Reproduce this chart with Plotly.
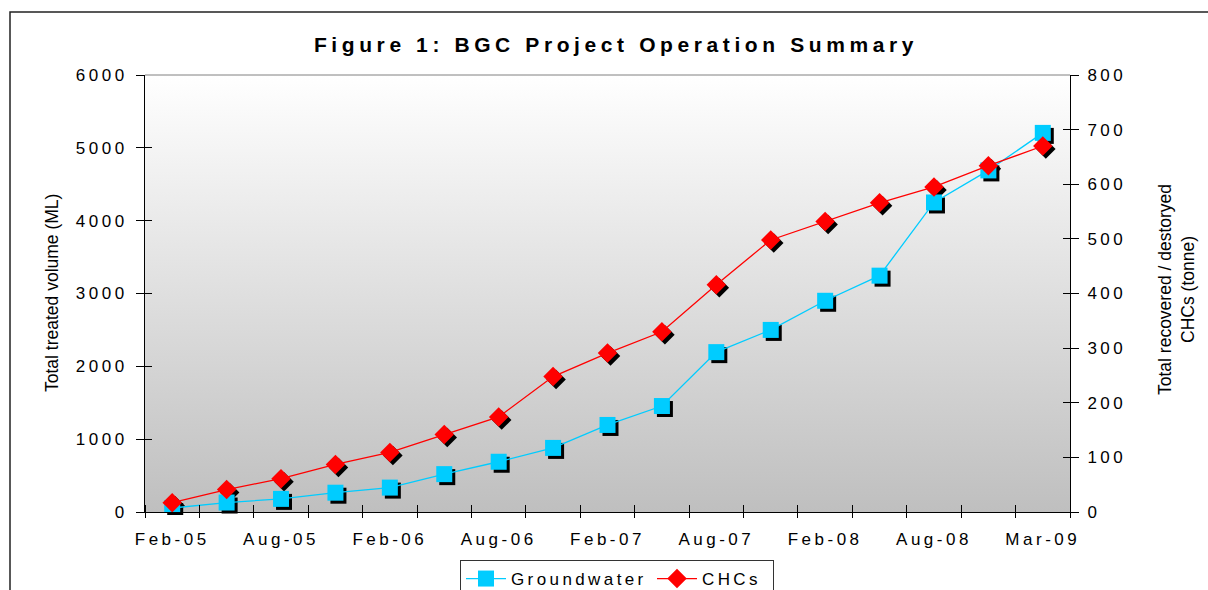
import base64
import plotly.graph_objects as go

# ---------------- data ----------------
categories = ["Feb-05", "May-05", "Aug-05", "Nov-05", "Feb-06", "May-06", "Aug-06", "Nov-06",
              "Feb-07", "May-07", "Aug-07", "Nov-07", "Feb-08", "May-08", "Aug-08", "Nov-08", "Mar-09"]
groundwater_ml = [55, 130, 180, 265, 335, 520, 690, 880, 1195, 1455, 2195, 2500, 2900, 3245, 4250, 4690, 5205]
chcs_tonne = [17, 41, 61, 87, 109, 142, 174, 248, 291, 330, 416, 498, 532, 566, 595, 634, 670]
tick_labels = ["Feb-05", "Aug-05", "Feb-06", "Aug-06", "Feb-07", "Aug-07", "Feb-08", "Aug-08", "Mar-09"]
left_ticks = [0, 1000, 2000, 3000, 4000, 5000, 6000]
right_ticks = [0, 100, 200, 300, 400, 500, 600, 700, 800]

x_idx = list(range(len(categories)))
tick_idx = [categories.index(t) for t in tick_labels]

FONT = "Liberation Sans, Arial, sans-serif"
CYAN = "#00CCFF"
RED = "#FF0000"

# pixel geometry of the plot area
W, H = 1208, 590
ML, MR, MT, MB = 145, 135, 75, 75
PW, PH = W - ML - MR, H - MT - MB   # 928 x 440
SH = 3                               # shadow offset px
xd_main = [0, (PW - SH) / PW]
xd_shad = [SH / PW, 1]
yd_main = [SH / PH, 1]
yd_shad = [0, (PH - SH) / PH]

fig = go.Figure()

# shadows (drawn first / underneath)
fig.add_trace(go.Scatter(x=x_idx, y=groundwater_ml, mode="markers", xaxis="x", yaxis="y",
                         marker=dict(symbol="square", size=16, color="black"),
                         showlegend=False, hoverinfo="skip"))
fig.add_trace(go.Scatter(x=x_idx, y=chcs_tonne, mode="markers", xaxis="x", yaxis="y2",
                         marker=dict(symbol="diamond", size=15, color="black"),
                         showlegend=False, hoverinfo="skip"))
# main series
fig.add_trace(go.Scatter(x=x_idx, y=groundwater_ml, mode="lines+markers", name="Groundwater",
                         xaxis="x2", yaxis="y3", customdata=categories, legendwidth=136,
                         line=dict(color=CYAN, width=1.3),
                         marker=dict(symbol="square", size=16, color=CYAN),
                         hovertemplate="%{customdata}: %{y} ML<extra></extra>"))
fig.add_trace(go.Scatter(x=x_idx, y=chcs_tonne, mode="lines+markers", name="CHCs",
                         xaxis="x2", yaxis="y4", customdata=categories, legendwidth=66,
                         line=dict(color=RED, width=1.3),
                         marker=dict(symbol="diamond", size=15, color=RED),
                         hovertemplate="%{customdata}: %{y} t<extra></extra>"))
# empty traces to host the inner halves of the crossing tick marks
for xa, ya in [("x3", "y3"), ("x2", "y5"), ("x2", "y6")]:
    fig.add_trace(go.Scatter(x=[], y=[], xaxis=xa, yaxis=ya, showlegend=False, hoverinfo="skip"))

tickfont = dict(family=FONT, size=17, color="black")
hidden = dict(visible=False, showgrid=False, zeroline=False, fixedrange=True)

svg = ("<svg xmlns='http://www.w3.org/2000/svg' width='100' height='100' preserveAspectRatio='none'>"
       "<defs><linearGradient id='g' x1='0' y1='0' x2='0' y2='1'>"
       "<stop offset='0' stop-color='#ffffff'/><stop offset='1' stop-color='#bfbfbf'/>"
       "</linearGradient></defs><rect width='100' height='100' fill='url(#g)'/></svg>")
bg_src = "data:image/svg+xml;base64," + base64.b64encode(svg.encode()).decode()

xr = [-0.5, len(categories) - 0.5]

fig.update_layout(
    width=W, height=H,
    margin=dict(l=ML, r=MR, t=MT, b=MB, autoexpand=False),
    paper_bgcolor="white", plot_bgcolor="rgba(0,0,0,0)",
    font=dict(family=FONT, size=17, color="black"),
    title=dict(text="<b>Figure 1: BGC Project Operation Summary</b>",
               font=dict(family=FONT, size=21, color="black"),
               x=616 / W, xref="container", xanchor="center",
               y=1 - 45 / H, yref="container", yanchor="middle"),
    xaxis=dict(domain=xd_shad, range=xr, anchor="y", **hidden),
    yaxis=dict(domain=yd_shad, range=[left_ticks[0], left_ticks[-1]], anchor="x", **hidden),
    yaxis2=dict(range=[right_ticks[0], right_ticks[-1]], overlaying="y", anchor="x", **hidden),
    xaxis2=dict(domain=xd_main, range=xr, anchor="y3", showgrid=False, zeroline=False,
                showline=True, linecolor="black", linewidth=1,
                tickmode="array", tickvals=tick_idx, ticktext=tick_labels, ticks="",
                tickfont=tickfont, ticklabelstandoff=12,
                minor=dict(ticks="outside", ticklen=5, tickcolor="black", tickwidth=1,
                           tick0=-0.5, dtick=1, showgrid=False)),
    xaxis3=dict(range=xr, overlaying="x2", anchor="y3", showgrid=False, zeroline=False,
                showticklabels=False, ticks="", tickvals=[],
                minor=dict(ticks="inside", ticklen=7, tickcolor="black", tickwidth=1,
                           tick0=-0.5, dtick=1, showgrid=False)),
    yaxis3=dict(domain=yd_main, range=[left_ticks[0], left_ticks[-1]], anchor="x2",
                tickmode="array", tickvals=left_ticks, showgrid=False, zeroline=False,
                showline=True, linecolor="black", linewidth=1,
                ticks="outside", ticklen=8, tickcolor="black", tickfont=tickfont,
                ticklabelstandoff=5),
    yaxis5=dict(range=[left_ticks[0], left_ticks[-1]], overlaying="y3", anchor="x2",
                tickmode="array", tickvals=left_ticks, showgrid=False, zeroline=False,
                showticklabels=False, ticks="inside", ticklen=7, tickcolor="black"),
    yaxis4=dict(range=[right_ticks[0], right_ticks[-1]], overlaying="y3", side="right", anchor="x2",
                tickmode="array", tickvals=right_ticks, showgrid=False, zeroline=False,
                showline=True, linecolor="black", linewidth=1,
                ticks="outside", ticklen=8, tickcolor="black", tickfont=tickfont,
                ticklabelstandoff=5),
    yaxis6=dict(range=[right_ticks[0], right_ticks[-1]], overlaying="y3", side="right", anchor="x2",
                tickmode="array", tickvals=right_ticks, showgrid=False, zeroline=False,
                showticklabels=False, ticks="inside", ticklen=7, tickcolor="black"),
    legend=dict(orientation="h", x=460 / W, xref="container", xanchor="left",
                y=1 - 560 / H, yref="container", yanchor="top",
                bgcolor="white", bordercolor="#333333", borderwidth=1,
                font=dict(family=FONT, size=17, color="black"),
                itemwidth=40, tracegroupgap=0),
    images=[dict(source=bg_src, xref="paper", yref="paper", x=0, y=1,
                 sizex=xd_main[1], sizey=1 - yd_main[0], xanchor="left", yanchor="top",
                 sizing="stretch", layer="below")],
    shapes=[
        # outer chart-area border (extends beyond the visible window)
        dict(type="rect", xref="paper", yref="paper",
             x0=(10 - ML) / PW, x1=(W + 20 - ML) / PW,
             y0=(H - MB - (H + 20)) / PH, y1=(H - MB - 12) / PH,
             line=dict(color="#222222", width=1.5), fillcolor="rgba(0,0,0,0)", layer="below"),
        # grey plot-area top border
        dict(type="line", xref="paper", yref="paper", x0=0, x1=xd_main[1], y0=1, y1=1,
             line=dict(color="#808080", width=1)),
    ],
    annotations=[
        dict(text="Total treated volume (ML)", xref="paper", yref="paper",
             x=0, xshift=52 - ML, y=(H - MB - 293) / PH, xanchor="center", yanchor="middle",
             textangle=-90, showarrow=False, font=dict(family=FONT, size=17.5, color="black")),
        dict(text="Total recovered / destoryed<br>CHCs (tonne)", xref="paper", yref="paper",
             x=xd_main[1], xshift=1176 - (ML + PW - SH), y=(H - MB - 290) / PH,
             xanchor="center", yanchor="middle", align="center",
             textangle=-90, showarrow=False, font=dict(family=FONT, size=17.5, color="black")),
    ],
    hovermode="closest",
)

post = """
document.documentElement.style.margin = '0';
document.body.style.margin = '0';
document.body.style.padding = '0';
var st = document.createElement('style');
st.textContent = '.gtitle{letter-spacing:4.6px;} ' +
  '.x2tick text, .y3tick text, .y4tick text{letter-spacing:3.5px;} ' +
  '.legendtext{letter-spacing:3.4px;}';
document.head.appendChild(st);
"""

fig.write_html("out.html", post_script=post, config={"displayModeBar": False})
